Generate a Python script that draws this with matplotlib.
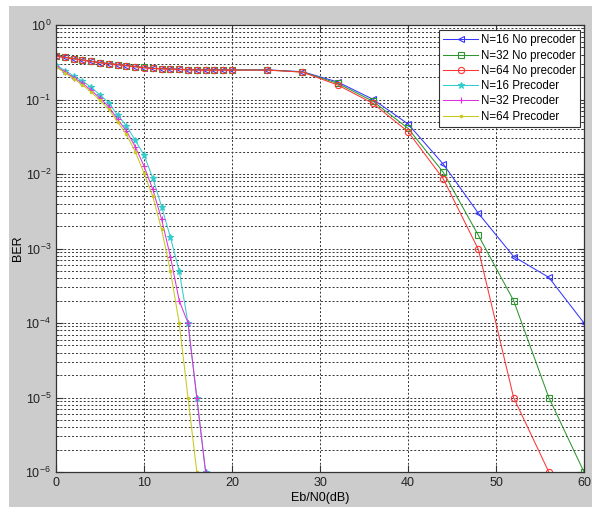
import numpy as np
import matplotlib
matplotlib.use("Agg")
import matplotlib.pyplot as plt
from matplotlib.patches import Rectangle
from matplotlib.ticker import LogLocator, FixedLocator, NullFormatter

plt.rcParams["font.family"] = ["Liberation Sans", "DejaVu Sans"]
plt.rcParams["mathtext.default"] = "regular"

# ---- data ----
x_noprec = [0, 1, 2, 3, 4, 5, 6, 7, 8, 9, 10, 11, 12, 13, 14, 15, 16, 17, 18, 19, 20,
            24, 28, 32, 36, 40, 44, 48, 52, 56, 60]
ber_n16_noprec = [0.384, 0.368, 0.353, 0.339, 0.325, 0.312, 0.303, 0.294, 0.285, 0.276,
                  0.268, 0.262, 0.259, 0.257, 0.254, 0.251, 0.250, 0.249, 0.249, 0.249,
                  0.249, 0.250, 0.236, 0.172, 0.101, 0.047, 0.0136, 0.00297, 0.00078,
                  0.00041, 1e-4]
ber_n32_noprec = [0.386, 0.369, 0.354, 0.340, 0.326, 0.313, 0.303, 0.294, 0.285, 0.277,
                  0.269, 0.262, 0.259, 0.257, 0.254, 0.251, 0.250, 0.249, 0.249, 0.249,
                  0.249, 0.249, 0.234, 0.165, 0.095, 0.041, 0.0106, 0.0015, 0.0002,
                  1e-5, 1e-6]
ber_n64_noprec = [0.383, 0.367, 0.352, 0.338, 0.324, 0.311, 0.302, 0.293, 0.284, 0.275,
                  0.267, 0.261, 0.258, 0.256, 0.253, 0.250, 0.249, 0.248, 0.248, 0.248,
                  0.248, 0.248, 0.233, 0.157, 0.089, 0.037, 0.00865, 0.00097, 1e-5,
                  1e-6]

x_prec16 = list(range(0, 18))
ber_n16_prec = [0.29, 0.245, 0.207, 0.177, 0.146, 0.115, 0.0906, 0.0614, 0.0446, 0.0283,
                0.018, 0.00875, 0.00365, 0.00141, 0.0005, 1e-4, 1e-5, 1e-6]
x_prec32 = list(range(0, 18))
ber_n32_prec = [0.28, 0.235, 0.197, 0.165, 0.133, 0.104, 0.080, 0.054, 0.038, 0.0233,
                0.0128, 0.0062, 0.00247, 0.00078, 0.0002, 1e-4, 1e-5, 1e-6]
x_prec64 = list(range(0, 17))
ber_n64_prec = [0.275, 0.228, 0.19, 0.157, 0.126, 0.097, 0.074, 0.050, 0.034, 0.020,
                0.0103, 0.005, 0.0018, 0.0005, 1e-4, 1e-5, 1e-6]

series = [
    (x_noprec, ber_n16_noprec, "N=16 No precoder", "#3535ff", "<"),
    (x_noprec, ber_n32_noprec, "N=32 No precoder", "#2e962e", "s"),
    (x_noprec[:len(ber_n64_noprec)], ber_n64_noprec, "N=64 No precoder", "#ff3535", "o"),
    (x_prec16, ber_n16_prec, "N=16 Precoder", "#33cccc", "*"),
    (x_prec32, ber_n32_prec, "N=32 Precoder", "#dd33dd", "+"),
    (x_prec64, ber_n64_prec, "N=64 Precoder", "#c8c820", "."),
]

# ---- plot ----
fig = plt.figure(figsize=(5.92, 5.07), dpi=100, facecolor="white")
fig.patches.append(Rectangle((9 / 592, 0), 1, 1 - 6 / 507, transform=fig.transFigure,
                             facecolor="#cccccc", edgecolor="none", zorder=-10))
ax = fig.add_axes([56 / 592, 1 - 472 / 507, 528 / 592, 447 / 507])

for xs, ys, label, color, mk in series:
    filled = mk in ("*", "+", ".")
    ax.semilogy(xs, ys, color=color, lw=0.75, marker=mk, ms=4.5 if mk != "." else 3.5,
                mfc=color if filled else "none", mec=color, mew=0.8, label=label)

ax.set_xlim(0, 60)
ax.set_ylim(1e-6, 1)
ax.xaxis.set_major_locator(FixedLocator([0, 10, 20, 30, 40, 50, 60]))
ax.yaxis.set_minor_locator(LogLocator(base=10, subs=np.arange(2, 10), numticks=20))
ax.yaxis.set_minor_formatter(NullFormatter())
ax.set_yticks([10.0 ** k for k in range(-6, 1)])
ax.set_yticklabels([f"$10^{{{k}}}$" for k in range(-6, 1)])

ax.tick_params(which="both", direction="in", top=True, right=True, labelsize=9,
               colors="#333333", labelcolor="#222222")
ax.tick_params(which="major", length=5)
ax.tick_params(which="minor", length=2.5)
ax.grid(True, which="major", axis="x", ls=(0, (2, 2)), color="#333333", lw=0.7)
ax.grid(True, which="both", axis="y", ls=(0, (2, 2)), color="#333333", lw=0.7)
for s in ax.spines.values():
    s.set_color("#333333")
    s.set_linewidth(0.9)

ax.set_xlabel("Eb/N0(dB)", fontsize=9, labelpad=2)
ax.set_ylabel("BER", fontsize=9, labelpad=1)

leg = ax.legend(loc="upper right", fontsize=8.3, frameon=True, fancybox=False,
                edgecolor="#333333", framealpha=1, handlelength=3.0,
                bbox_to_anchor=(0.993, 0.988), borderaxespad=0.0,
                labelspacing=0.28, handletextpad=0.3, borderpad=0.35)
leg.get_frame().set_linewidth(0.8)

fig.savefig("out.png", dpi=100, facecolor=fig.get_facecolor())
